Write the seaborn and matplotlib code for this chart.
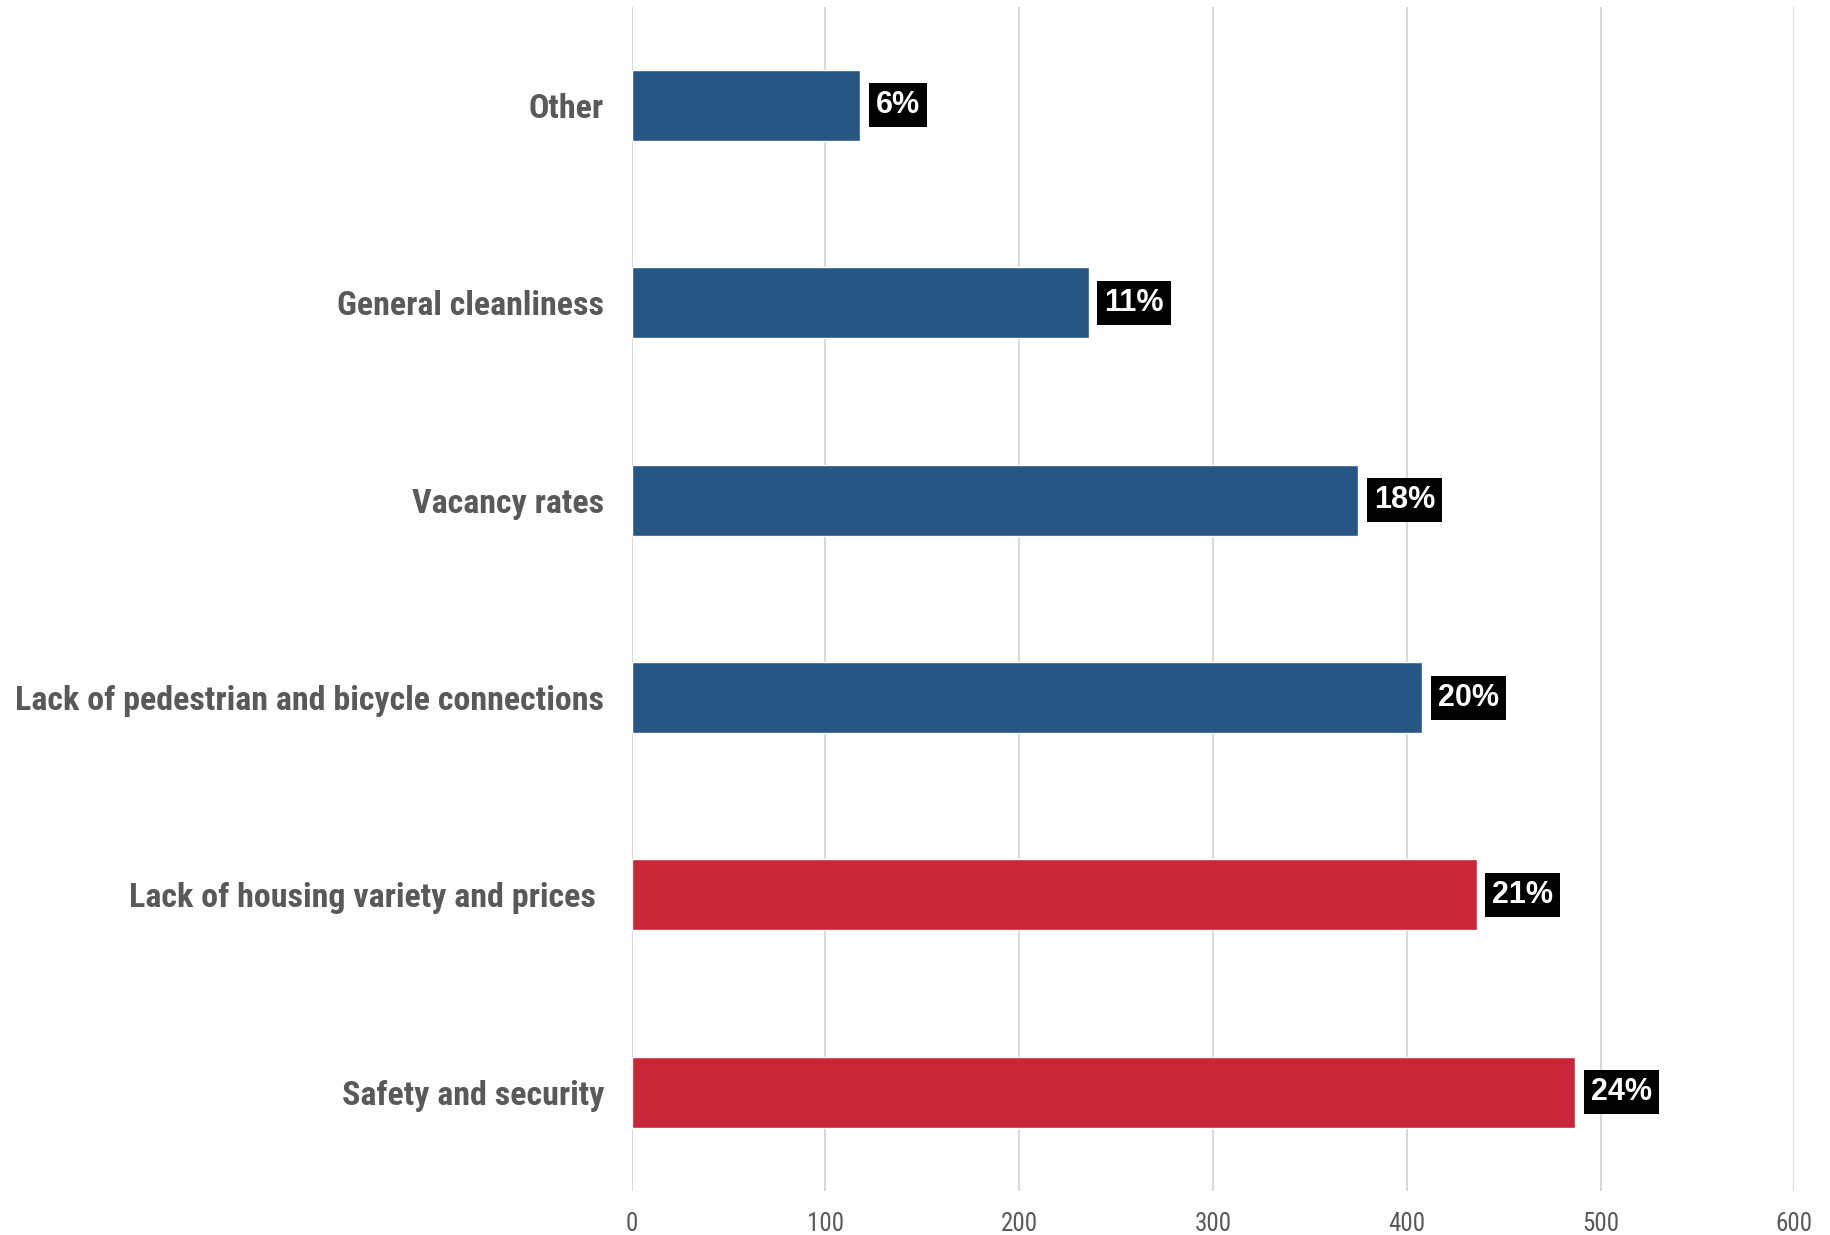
import pandas as pd
import matplotlib
matplotlib.use('Agg')
import matplotlib.pyplot as plt
import seaborn as sns


######
# Data
######
categories = ['Other',
              'General cleanliness',
              'Vacancy rates',
              'Lack of pedestrian and bicycle connections',
              'Lack of housing variety and prices ',
              'Safety and security']
counts = [118, 236, 375, 408, 436, 487]
pct_labels = ['6%', '11%', '18%', '20%', '21%', '24%']
highlight = ['no', 'no', 'no', 'no', 'yes', 'yes']

BLUE = '#275685'
RED = '#C92738'
GREY_TEXT = '#595959'

df = pd.DataFrame({'category': categories, 'count': counts, 'group': highlight})


#######
# Style
#######
sns.set_theme(style='white')
COND = ['Roboto Condensed', 'PT Sans Narrow', 'DejaVu Sans']
plt.rcParams['font.family'] = COND


######
# Plot
######
fig = plt.figure(figsize=(18.31, 12.35), dpi=100)
ax = fig.add_axes([0.345, 0.0356, 0.635, 0.959])

sns.barplot(data=df, x='count', y='category', hue='group', dodge=False,
            palette={'no': BLUE, 'yes': RED}, saturation=1, width=0.36,
            legend=False, orient='h', ax=ax, zorder=3)

ax.set_xlim(0, 600)
ax.set_ylim(5.5, -0.5)
ax.set_xticks(range(0, 601, 100))
ax.grid(axis='x', color='#D9D9D9', linewidth=1.5, zorder=0)
ax.grid(axis='y', visible=False)
for s in ax.spines.values():
    s.set_visible(False)
ax.tick_params(axis='both', length=0)
ax.tick_params(axis='x', labelsize=18, labelcolor=GREY_TEXT, pad=15)
ax.tick_params(axis='y', labelsize=24.5, labelcolor=GREY_TEXT, pad=20)
for lab in ax.get_yticklabels():
    lab.set_fontweight('bold')
ax.set_xlabel('')
ax.set_ylabel('')

# Percent labels in black boxes
for cont in ax.containers:
    labs = []
    for bar in cont:
        idx = int(round(bar.get_y() + bar.get_height() / 2))
        labs.append(pct_labels[idx] if bar.get_width() > 0 else '')
    ax.bar_label(cont, labels=labs, padding=11, color='white', fontsize=22,
                 fontweight='bold', family=['Liberation Sans', 'DejaVu Sans'],
                 bbox=dict(facecolor='black', edgecolor='none', pad=5))

fig.savefig('out.png', dpi=100)
